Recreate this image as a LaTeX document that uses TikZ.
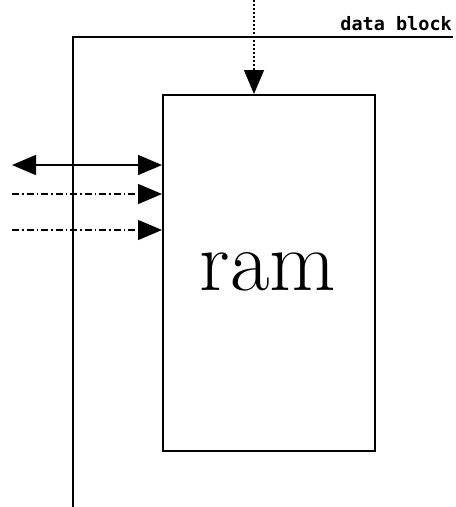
\documentclass[tikz,border=0pt]{standalone}
\usepackage{fontspec}
\newfontfamily\lblfont{DejaVu Sans Mono}
\usetikzlibrary{arrows.meta}
\begin{document}
\begin{tikzpicture}[x=1pt,y=-1pt,
  wire/.style={line width=1.6pt},
  tip/.style={-{Triangle[length=24pt,width=20pt]}},
  dashdot/.style={line width=1.3pt,dash pattern=on 7pt off 3pt on 1.5pt off 3pt},
  dotline/.style={line width=1.3pt,dash pattern=on 1.5pt off 2.5pt}]
\useasboundingbox (0,0) rectangle (456,507);
% outer frame
\coordinate (fb) at (73,507);
\coordinate (ft) at (73,37);
\coordinate (fr) at (453,37);
\draw[wire] (fb) -- (ft) -- (fr);
\node[anchor=base east,inner sep=0pt,font=\lblfont\bfseries\fontsize{18.5}{20}\selectfont] (lbl) at (452,30) {data block};
% ram box
\node[draw,line width=1.6pt,minimum width=212pt,minimum height=356pt,inner sep=0pt,anchor=north west] (ram) at (162,94) {};
\node[font=\fontsize{86}{90}\selectfont,inner sep=0pt,anchor=base] (ramtxt) at (268,290) {ram};
% top arrow
\coordinate (tin) at (254,0);
\draw[dotline,tip] (tin) -- (ram.north -| tin);
% left arrows
\coordinate (a1) at (12,165);
\coordinate (a2) at (12,194);
\coordinate (a3) at (12,230);
\draw[wire,{Triangle[length=24pt,width=20pt]}-{Triangle[length=24pt,width=20pt]}] (a1) -- (ram.west |- a1);
\draw[dashdot,tip] (a2) -- (ram.west |- a2);
\draw[dashdot,tip] (a3) -- (ram.west |- a3);
\end{tikzpicture}
\end{document}
